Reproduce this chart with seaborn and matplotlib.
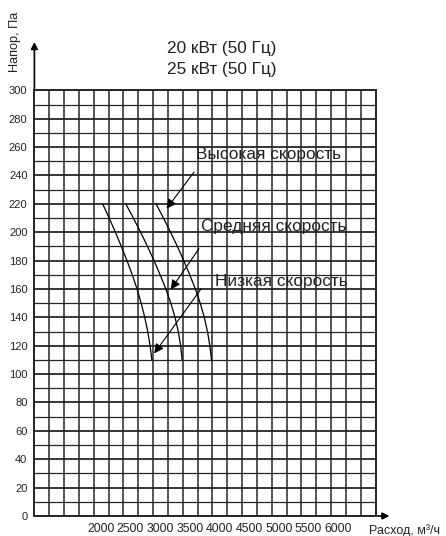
import matplotlib
matplotlib.use("Agg")
import matplotlib.pyplot as plt
from matplotlib.transforms import ScaledTranslation
import numpy as np
import pandas as pd
import seaborn as sns

# Data
pressure = [220, 210, 200, 190, 180, 170, 160, 150, 140, 130, 120, 110]
flow_low = [2150, 2260, 2365, 2465, 2560, 2650, 2730, 2800, 2860, 2910, 2950, 2980]
flow_mid = [2540, 2668, 2790, 2906, 3016, 3119, 3215, 3300, 3370, 3425, 3465, 3490]
flow_high = [3050, 3175, 3295, 3409, 3517, 3618, 3712, 3795, 3863, 3917, 3957, 3985]

speed_names = ["Низкая скорость", "Средняя скорость", "Высокая скорость"]
x_tick_values = [2000, 2500, 3000, 3500, 4000, 4500, 5000, 5500, 6000]
y_tick_values = list(range(0, 301, 20))
titles = ["20 кВт (50 Гц)", "25 кВт (50 Гц)"]

df = pd.concat(
    [
        pd.DataFrame({"flow": f, "pressure": pressure, "speed": n})
        for f, n in zip([flow_low, flow_mid, flow_high], speed_names)
    ]
)

sns.set_style("white")
plt.rcParams["font.family"] = ["Liberation Sans", "DejaVu Sans"]

grid_col = "#262626"
txt_col = "#222222"
fig = plt.figure(figsize=(4.46, 5.36), dpi=100)
ax = fig.add_axes([0.0771, 0.0373, 0.765, 0.7942])

sns.lineplot(
    data=df, x="flow", y="pressure", hue="speed",
    palette=["black"] * 3, legend=False, lw=0.9, ax=ax,
)

ax.set_xlim(1000, 6750)
ax.set_ylim(0, 300)
ax.set_xticks(x_tick_values)
ax.set_yticks(y_tick_values)
ax.set_yticklabels([str(v) for v in y_tick_values], fontsize=8, color=txt_col)

# x labels sit a little to the right of their ticks, so draw them as texts
ax.tick_params(axis="x", length=2, width=1, color=grid_col, direction="out", labelbottom=False)
lab_tr = ax.get_xaxis_transform() + ScaledTranslation(7 / 100, -12.5 / 100, fig.dpi_scale_trans)
for v in x_tick_values:
    ax.text(v, 0, str(v), transform=lab_tr, ha="center", va="center",
            fontsize=8.8, color=txt_col, clip_on=False)

# grid, one cell = 250 m3/h x 10 Pa
ax.grid(False)
for xv in np.arange(1000, 6751, 250):
    ax.axvline(xv, color=grid_col, lw=1.1, zorder=0)
for yv in np.arange(0, 301, 10):
    ax.axhline(yv, color=grid_col, lw=1.3 if yv % 20 == 0 else 0.9, zorder=0)

ax.tick_params(axis="y", length=0, pad=5)
for s in ax.spines.values():
    s.set_color(grid_col)
    s.set_linewidth(1.4)

ax.set_xlabel("")
ax.set_ylabel("")

# axis arrows
ax.annotate("", xy=(1000, 336), xytext=(1000, 299), xycoords="data",
            arrowprops=dict(arrowstyle="-|>", color="black", lw=1.2, mutation_scale=10),
            annotation_clip=False)
ax.annotate("", xy=(7030, 0), xytext=(6740, 0), xycoords="data",
            arrowprops=dict(arrowstyle="-|>", color="black", lw=1.2, mutation_scale=10),
            annotation_clip=False)

fig.text(15 / 446, 1 - 42 / 536, "Напор, Па", rotation=90, ha="center", va="center",
         fontsize=9.2, color=txt_col)
fig.text(369 / 446, 1 - 531 / 536, "Расход, м³/ч", ha="left", va="center",
         fontsize=9.0, color=txt_col)
fig.text(222 / 446, 1 - 48.5 / 536, titles[0], ha="center", va="center", fontsize=12.4, color=txt_col)
fig.text(222 / 446, 1 - 69.5 / 536, titles[1], ha="center", va="center", fontsize=12.4, color=txt_col)

# speed labels with pointer arrows
labels = [
    (speed_names[2], (3720, 255), (3720, 244), (3199, 215)),
    (speed_names[1], (3800, 204), (3800, 190), (3271, 158)),
    (speed_names[0], (4052, 165), (3843, 162), (2992, 113)),
]
for name, tpos, start, tip in labels:
    ax.text(tpos[0], tpos[1], name, ha="left", va="center", fontsize=12.4, color=txt_col)
    ax.annotate("", xy=tip, xytext=start,
                arrowprops=dict(arrowstyle="-|>", color="black", lw=0.8, mutation_scale=14))

fig.savefig("out.png", dpi=100)
